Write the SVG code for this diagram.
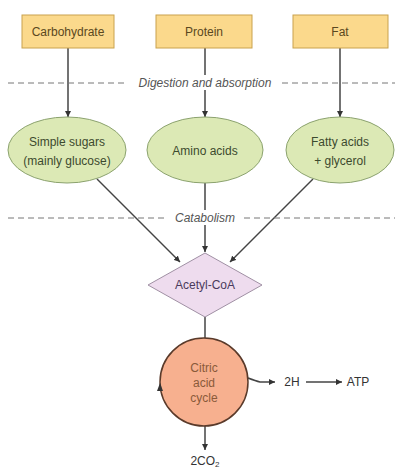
<svg xmlns="http://www.w3.org/2000/svg" width="395" height="473" viewBox="0 0 395 473">
<defs>
<style>
text{font-family:"Liberation Sans",Arial,sans-serif;font-size:12px;text-anchor:middle}
.box{fill:#fbd98c;stroke:#c9a24e;stroke-width:1}
.boxt{fill:#5a4820}
.ell{fill:#dce9b5;stroke:#8ba26e;stroke-width:1}
.ellt{fill:#3c4a2e}
.dash{stroke:#777;stroke-width:1;stroke-dasharray:6,4;fill:none}
.lab{fill:#555;font-style:italic}
.con{stroke:#444;stroke-width:1.5;fill:none}
</style>
<marker id="ah" viewBox="0 0 10 10" refX="10" refY="5" markerWidth="6" markerHeight="6" orient="auto" markerUnits="userSpaceOnUse">
<path d="M0,0 L10,5 L0,10 z" fill="#333"/>
</marker>
</defs>
<rect width="395" height="473" fill="#fff"/>
<g id="connectors">
<line class="con" x1="68" y1="48" x2="68" y2="117" marker-end="url(#ah)"/>
<line class="con" x1="205" y1="48" x2="205" y2="117" marker-end="url(#ah)"/>
<line class="con" x1="340" y1="48" x2="340" y2="117" marker-end="url(#ah)"/>
<line class="con" x1="97" y1="179" x2="180" y2="262" marker-end="url(#ah)"/>
<line class="con" x1="205" y1="183" x2="205" y2="252" marker-end="url(#ah)"/>
<line class="con" x1="313" y1="179" x2="230" y2="262" marker-end="url(#ah)"/>
<line class="con" x1="205" y1="317" x2="205" y2="339"/>
<path class="con" d="M248,378 Q256,381 260,382 L275,382" marker-end="url(#ah)"/>
<line class="con" x1="306" y1="382" x2="342" y2="382" marker-end="url(#ah)"/>
<line class="con" x1="205" y1="425" x2="205" y2="450" marker-end="url(#ah)"/>
</g>
<g id="separators">
<line class="dash" x1="8" y1="83" x2="128" y2="83"/>
<line class="dash" x1="282" y1="83" x2="395" y2="83"/>
<rect x="132" y="75" width="146" height="15" fill="#fff"/>
<text class="lab" x="205" y="87">Digestion and absorption</text>
<line class="dash" x1="8" y1="218" x2="166" y2="218"/>
<line class="dash" x1="244" y1="218" x2="395" y2="218"/>
<rect x="172" y="210" width="66" height="15" fill="#fff"/>
<text class="lab" x="205" y="222">Catabolism</text>
</g>
<g id="carbohydrate">
<rect class="box" x="22" y="15" width="92" height="33"/>
<text class="boxt" x="68" y="36">Carbohydrate</text>
</g>
<g id="protein">
<rect class="box" x="156" y="15" width="96" height="33"/>
<text class="boxt" x="204" y="36">Protein</text>
</g>
<g id="fat">
<rect class="box" x="293" y="15" width="95" height="33"/>
<text class="boxt" x="340" y="36">Fat</text>
</g>
<g id="simple-sugars">
<ellipse class="ell" cx="67" cy="150" rx="59" ry="33"/>
<text class="ellt" x="67" y="146">Simple sugars</text>
<text class="ellt" x="67" y="165">(mainly glucose)</text>
</g>
<g id="amino-acids">
<ellipse class="ell" cx="205" cy="150" rx="58" ry="33"/>
<text class="ellt" x="205" y="155">Amino acids</text>
</g>
<g id="fatty-acids">
<ellipse class="ell" cx="340" cy="150" rx="54" ry="33"/>
<text class="ellt" x="340" y="146">Fatty acids</text>
<text class="ellt" x="340" y="165">+ glycerol</text>
</g>
<g id="acetyl-coa">
<polygon points="205,253 262,285 205,317 148,285" fill="#eedcee" stroke="#a090a4" stroke-width="1"/>
<text x="205" y="289" fill="#4a3a5c">Acetyl-CoA</text>
</g>
<g id="citric-acid-cycle">
<circle cx="204" cy="382" r="44" fill="#f7b08f" stroke="#5a3a2a" stroke-width="1.5"/>
<path d="M157,391 L160,383 L163,391 z" fill="#333"/>
<text x="204" y="372" fill="#8a5a3a">Citric</text>
<text x="204" y="387" fill="#8a5a3a">acid</text>
<text x="204" y="402" fill="#8a5a3a">cycle</text>
</g>
<g id="products">
<text x="292" y="386" fill="#333">2H</text>
<text x="358" y="386" fill="#333">ATP</text>
<text x="205" y="465" fill="#333">2CO<tspan font-size="8" dy="2">2</tspan></text>
</g>
</svg>
